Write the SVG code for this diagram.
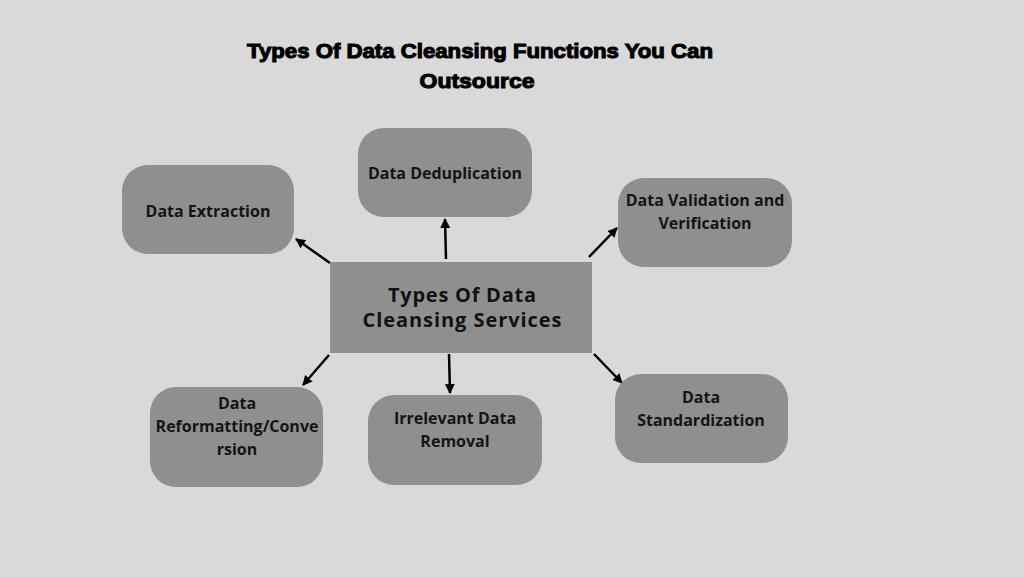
<svg xmlns="http://www.w3.org/2000/svg" width="1024" height="577" viewBox="0 0 1024 577">
<defs>
<marker id="ah" viewBox="0 0 10 10" refX="9" refY="5" markerWidth="4" markerHeight="4" markerUnits="strokeWidth" orient="auto">
<path d="M0,0 L10,5 L0,10 z" fill="#000"/>
</marker>
<style>
.node{fill:#8f8f8f}
.lbl{font-family:"Open Sans","Liberation Sans",sans-serif;font-weight:bold;font-size:16px;fill:#141414;text-anchor:middle}
.title{font-family:"Liberation Sans",sans-serif;font-weight:900;font-size:21px;fill:#000;stroke:#000;stroke-width:1.1;text-anchor:middle}
.ctr{font-family:"Open Sans","Liberation Sans",sans-serif;font-weight:bold;font-size:20px;fill:#111;text-anchor:middle}
.con{stroke:#000;stroke-width:2.5;fill:none;marker-end:url(#ah)}
</style>
</defs>
<rect width="1024" height="577" fill="#d9d9d9"/>
<g id="title">
<text class="title" x="480" y="58" textLength="466" lengthAdjust="spacingAndGlyphs">Types Of Data Cleansing Functions You Can</text>
<text class="title" x="477" y="88" textLength="115" lengthAdjust="spacingAndGlyphs">Outsource</text>
</g>
<g id="connectors">
<line class="con" x1="330" y1="263" x2="296" y2="239"/>
<line class="con" x1="446" y1="259" x2="445" y2="219"/>
<line class="con" x1="589" y1="257" x2="617" y2="228"/>
<line class="con" x1="329" y1="355" x2="303" y2="385"/>
<line class="con" x1="449" y1="354" x2="450" y2="393"/>
<line class="con" x1="594" y1="354" x2="622" y2="383"/>
</g>
<g id="center">
<rect x="330" y="262" width="262" height="91" fill="#8f8f8f"/>
<text class="ctr" x="462" y="302" textLength="148" lengthAdjust="spacing">Types Of Data</text>
<text class="ctr" x="462" y="327" textLength="199" lengthAdjust="spacing">Cleansing Services</text>
</g>
<g id="extraction">
<rect class="node" x="122" y="165" width="172" height="89" rx="26"/>
<text class="lbl" x="208" y="217">Data Extraction</text>
</g>
<g id="dedup">
<rect class="node" x="358" y="128" width="174" height="89" rx="26"/>
<text class="lbl" x="445" y="179">Data Deduplication</text>
</g>
<g id="validation">
<rect class="node" x="618" y="178" width="174" height="89" rx="26"/>
<text class="lbl" x="705" y="206">Data Validation and</text>
<text class="lbl" x="705" y="229">Verification</text>
</g>
<g id="reformatting">
<rect class="node" x="150" y="387" width="173" height="100" rx="26"/>
<text class="lbl" x="237" y="409">Data</text>
<text class="lbl" x="237" y="432">Reformatting/Conve</text>
<text class="lbl" x="237" y="455">rsion</text>
</g>
<g id="irrelevant">
<rect class="node" x="368" y="395" width="174" height="90" rx="26"/>
<text class="lbl" x="455" y="424">Irrelevant Data</text>
<text class="lbl" x="455" y="447">Removal</text>
</g>
<g id="standardization">
<rect class="node" x="615" y="374" width="173" height="89" rx="26"/>
<text class="lbl" x="701" y="403">Data</text>
<text class="lbl" x="701" y="426">Standardization</text>
</g>
</svg>
